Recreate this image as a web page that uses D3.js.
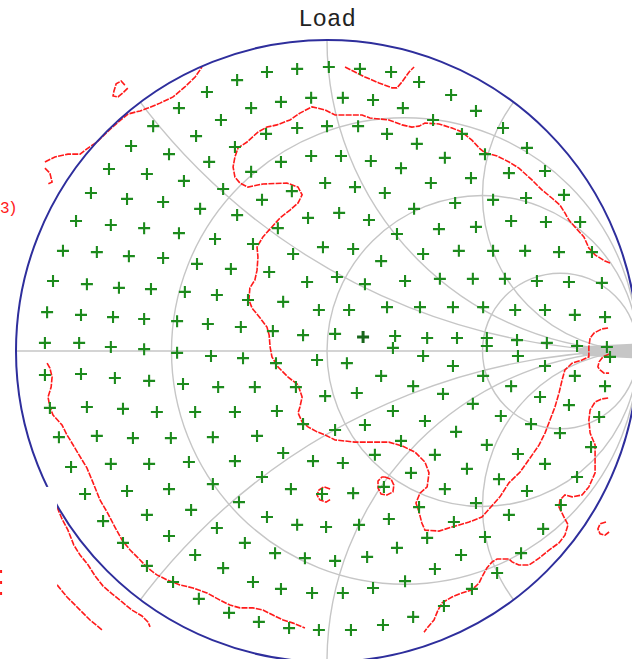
<!DOCTYPE html>
<html>
<head>
<meta charset="utf-8">
<script src="https://cdn.jsdelivr.net/npm/d3@7"></script>
<style>
  html, body { margin: 0; padding: 0; background: #fff; overflow: hidden; }
  svg { display: block; }
</style>
</head>
<body>
<svg id="chart" width="632" height="659"></svg>
<script>
// Load-pull Smith chart: measured load reflection coefficients (Γ = re, im)
// with the contour lines drawn from the sweep.

const chartTitle = "Load";
const edgeLabel = "3)";

// Smith grid: constant-resistance circles and constant-reactance arcs
const resistanceCircles = [1 / 3, 1, 3];
const reactanceArcs = [0.5, 1, 2, -0.5, -1, -2];

// Measured load points [Re Γ, Im Γ]
const loadPoints = [
  [-0.096,0.907],[-0.193,0.897],[-0.289,0.871],[-0.386,0.833],[-0.051,0.814],[-0.148,0.801],[-0.244,0.781],[-0.341,0.743],
  [-0.476,0.781],[-0.559,0.723],[-0.096,0.717],[-0.196,0.698],[-0.296,0.656],[-0.421,0.691],[-0.630,0.659],[-0.508,0.633],
  [-0.379,0.608],[-0.051,0.627],[-0.148,0.608],[-0.244,0.576],[-0.334,0.521],[-0.113,0.514],[-0.209,0.486],[-0.701,0.585],
  [-0.579,0.569],[-0.460,0.547],[-0.759,0.508],[-0.643,0.489],[-0.527,0.479],[-0.408,0.457],[-0.289,0.437],[-0.061,0.428],
  [-0.807,0.418],
  [-0.695,0.405],[-0.588,0.395],[-0.476,0.379],[-0.360,0.360],[-0.238,0.344],[-0.158,0.395],
  [-0.849,0.322],[-0.740,0.318],[-0.637,0.305],[-0.527,0.299],[-0.418,0.280],[-0.309,0.264],[-0.186,0.254],[-0.109,0.312],
  [-0.881,0.225],[-0.772,0.215],[-0.669,0.203],[-0.566,0.199],[-0.457,0.190],[-0.354,0.180],[-0.254,0.164],[-0.141,0.158],[-0.064,0.222],
  [-0.900,0.125],[-0.791,0.116],[-0.688,0.109],[-0.588,0.103],[-0.482,0.096],[-0.383,0.087],[-0.277,0.077],[-0.174,0.064],[-0.077,0.051],
  [-0.907,0.026],[-0.797,0.026],[-0.695,0.013],[-0.588,0.006],[-0.482,-0.006],[-0.373,-0.016],[-0.270,-0.023],[-0.164,-0.039],
  [-0.907,-0.077],[-0.791,-0.074],[-0.682,-0.087],[-0.572,-0.096],[-0.463,-0.106],[-0.350,-0.116],[-0.232,-0.116],[-0.100,-0.116],
  [-0.891,-0.183],[-0.772,-0.180],[-0.656,-0.186],[-0.547,-0.196],[-0.424,-0.196],[-0.296,-0.196],[-0.161,-0.193],[-0.077,-0.235],
  [-0.862,-0.277],[-0.740,-0.273],[-0.624,-0.280],[-0.502,-0.280],[-0.367,-0.277],[-0.225,-0.273],
  [-0.823,-0.373],[-0.695,-0.363],[-0.572,-0.363],[-0.444,-0.357],[-0.296,-0.354],[-0.141,-0.328],[-0.045,-0.354],
  [-0.778,-0.460],[-0.643,-0.450],[-0.508,-0.444],[-0.367,-0.428],[-0.209,-0.405],[-0.116,-0.444],
  [-0.720,-0.547],[-0.579,-0.527],[-0.437,-0.511],[-0.283,-0.486],[-0.193,-0.534],[-0.096,-0.559],
  [-0.656,-0.617],[-0.508,-0.595],[-0.354,-0.569],[-0.264,-0.617],[-0.167,-0.650],[-0.071,-0.666],
  [-0.579,-0.691],[-0.424,-0.656],[-0.334,-0.698],[-0.238,-0.743],[-0.148,-0.765],[-0.048,-0.778],
  [-0.495,-0.743],[-0.412,-0.797],[-0.315,-0.842],[-0.219,-0.871],[-0.122,-0.891],[-0.026,-0.897],
  [0.006,0.913],[0.106,0.907],[0.206,0.897],[0.296,0.865],[0.399,0.823],[0.479,0.772],[0.566,0.717],[0.643,0.653],[0.701,0.579],[0.762,0.502],
  [0.051,0.814],[0.148,0.807],[0.244,0.781],[0.341,0.743],[0.434,0.698],[0.508,0.633],[0.585,0.572],[0.640,0.492],
  [0.000,0.723],[0.100,0.723],[0.193,0.698],[0.289,0.666],[0.379,0.621],[0.463,0.556],[0.534,0.486],
  [0.045,0.627],[0.141,0.611],[0.238,0.588],[0.334,0.540],[0.412,0.476],
  [-0.006,0.540],[0.090,0.527],[0.186,0.508],[0.280,0.457],
  [0.039,0.444],[0.135,0.421],[0.592,0.418],[0.704,0.415],[0.814,0.415],
  [0.360,0.392],[0.479,0.399],[0.225,0.376],
  [-0.013,0.334],[0.084,0.328],[0.174,0.289],[0.309,0.312],[0.424,0.322],[0.534,0.322],[0.637,0.322],[0.746,0.318],[0.852,0.318],
  [0.032,0.238],[0.122,0.215],[0.251,0.225],[0.363,0.232],[0.469,0.232],[0.572,0.232],[0.675,0.225],[0.778,0.222],[0.884,0.219],
  [-0.026,0.132],[0.071,0.132],[0.193,0.141],[0.299,0.141],[0.405,0.141],[0.502,0.141],[0.605,0.132],[0.701,0.132],[0.797,0.116],[0.894,0.109],
  [0.026,0.055],[0.219,0.048],[0.322,0.042],[0.418,0.042],[0.514,0.042],[0.611,0.035],[0.707,0.026],[0.804,0.016],[0.900,0.013],
  [0.212,0.010],[0.514,0.016],
  [-0.032,-0.029],[0.064,-0.039],[0.309,-0.016],[0.614,-0.016],[0.910,-0.019],
  [0.405,-0.048],[0.701,-0.048],
  [0.174,-0.080],[0.502,-0.080],[0.797,-0.080],
  [0.894,-0.113],
  [-0.006,-0.145],[0.096,-0.135],[0.277,-0.113],[0.373,-0.138],[0.592,-0.113],[0.685,-0.148],[0.778,-0.174],[0.875,-0.212],
  [0.212,-0.193],[0.469,-0.170],[0.315,-0.225],[0.559,-0.209],[0.656,-0.235],
  [0.026,-0.254],[0.122,-0.238],[0.415,-0.260],[0.749,-0.264],
  [0.238,-0.289],
  [0.051,-0.360],[0.154,-0.334],[0.347,-0.334],[0.514,-0.302],[0.614,-0.331],[0.701,-0.363],[0.849,-0.309],
  [0.270,-0.392],[0.450,-0.379],[0.553,-0.412],[0.643,-0.450],[0.804,-0.405],
  [-0.016,-0.460],[0.084,-0.457],[0.183,-0.437],[0.379,-0.444],[0.479,-0.489],[0.585,-0.527],[0.695,-0.572],[0.752,-0.495],[0.296,-0.502],
  [-0.003,-0.566],[0.103,-0.559],[0.199,-0.540],[0.408,-0.550],[0.508,-0.598],[0.624,-0.650],[0.322,-0.601],
  [0.026,-0.675],[0.129,-0.662],[0.225,-0.633],[0.431,-0.656],[0.547,-0.714],[0.347,-0.701],
  [0.251,-0.740],[0.148,-0.762],[0.051,-0.778],[0.466,-0.765],
  [0.376,-0.820],[0.277,-0.855],[0.180,-0.881],[0.077,-0.897]
];

// Currently tuned load
const tunedPoint = [0.116, 0.045];

// Contour lines [Re Γ, Im Γ]
const contourUpperEdge = [
  [-0.907,0.608],[-0.875,0.624],[-0.833,0.633],[-0.794,0.633],[-0.772,0.650],[-0.740,0.672],[-0.707,0.704],[-0.675,0.733],
  [-0.640,0.762],[-0.601,0.772],[-0.576,0.781],[-0.537,0.797],[-0.495,0.817],[-0.457,0.849],[-0.424,0.881],[-0.402,0.913]
];
const contourHook = [[-0.907,0.588],[-0.891,0.572],[-0.884,0.543],[-0.897,0.537]];
const contourIslandA = [
  [-0.650,0.855],[-0.662,0.868],[-0.678,0.859],[-0.685,0.836],[-0.688,0.820],[-0.672,0.817],[-0.653,0.833],[-0.640,0.846]
];
const contourTopV = [
  [0.058,0.913],[0.090,0.897],[0.122,0.881],[0.167,0.862],[0.209,0.846],[0.225,0.846],[0.241,0.865],[0.264,0.897],[0.280,0.913]
];
const contourMain = [
  [0.910,0.283],[0.894,0.289],[0.862,0.309],[0.842,0.331],[0.826,0.367],[0.797,0.399],[0.778,0.421],[0.765,0.444],
  [0.749,0.469],[0.723,0.492],[0.691,0.518],[0.659,0.550],[0.617,0.588],[0.585,0.608],[0.547,0.627],[0.508,0.637],
  [0.489,0.653],[0.466,0.678],[0.434,0.704],[0.402,0.717],[0.360,0.730],[0.315,0.733],[0.296,0.723],[0.273,0.720],
  [0.241,0.727],[0.199,0.743],[0.138,0.749],[0.113,0.759],[0.026,0.759],[-0.006,0.775],[-0.048,0.785],[-0.087,0.765],
  [-0.119,0.743],[-0.161,0.727],[-0.193,0.720],[-0.222,0.704],[-0.257,0.672],[-0.286,0.653],[-0.296,0.624],[-0.302,0.592],
  [-0.296,0.559],[-0.280,0.540],[-0.254,0.527],[-0.206,0.537],[-0.129,0.540],[-0.093,0.527],[-0.080,0.502],[-0.093,0.476],
  [-0.119,0.453],[-0.151,0.428],[-0.177,0.399],[-0.206,0.367],[-0.225,0.334],[-0.222,0.302],[-0.225,0.260],[-0.232,0.228],
  [-0.248,0.203],[-0.251,0.164],[-0.241,0.138],[-0.215,0.106],[-0.193,0.077],[-0.186,0.051],[-0.183,0.013],[-0.177,-0.019],
  [-0.158,-0.051],[-0.125,-0.084],[-0.093,-0.109],[-0.080,-0.148],[-0.087,-0.180],[-0.093,-0.199],[-0.080,-0.228],[-0.061,-0.244],
  [-0.032,-0.260],[-0.006,-0.270],[0.026,-0.286],[0.090,-0.293],[0.199,-0.293],[0.241,-0.305],[0.283,-0.325],[0.315,-0.357],
  [0.328,-0.392],[0.322,-0.437],[0.299,-0.457],[0.286,-0.489],[0.296,-0.518],[0.305,-0.553],[0.315,-0.576],[0.360,-0.579],
  [0.402,-0.566],[0.457,-0.550],[0.498,-0.534],[0.524,-0.505],[0.556,-0.469],[0.585,-0.424],[0.621,-0.389],[0.653,-0.344],
  [0.682,-0.302],[0.701,-0.264],[0.717,-0.222],[0.733,-0.180],[0.746,-0.135],[0.756,-0.093],[0.765,-0.061],[0.788,-0.039],
  [0.820,-0.029],[0.842,-0.019],[0.842,0.013],[0.846,0.042],[0.859,0.058],[0.884,0.071],[0.904,0.074]
];
const contourLowerRight = [
  [0.904,-0.151],[0.884,-0.154],[0.862,-0.164],[0.846,-0.190],[0.842,-0.222],[0.846,-0.264],[0.862,-0.302],[0.862,-0.392],
  [0.842,-0.437],[0.820,-0.463],[0.788,-0.469],[0.765,-0.463],[0.749,-0.479],[0.746,-0.502],[0.762,-0.534],[0.775,-0.559],
  [0.765,-0.592],[0.746,-0.617],[0.714,-0.640],[0.682,-0.666],[0.650,-0.688],[0.617,-0.688],[0.595,-0.678],[0.585,-0.669],
  [0.547,-0.669],[0.531,-0.678],[0.514,-0.698],[0.498,-0.727],[0.489,-0.746],[0.466,-0.768],[0.434,-0.778],[0.402,-0.791],
  [0.370,-0.810],[0.357,-0.833],[0.344,-0.865],[0.322,-0.891],[0.312,-0.904]
];
const contourNearOpen = [
  [0.907,-0.010],[0.887,-0.019],[0.875,-0.035],[0.871,-0.051],[0.878,-0.061],[0.891,-0.071],[0.907,-0.071]
];
const contourIslandB = [
  [0.186,-0.405],[0.206,-0.412],[0.215,-0.431],[0.212,-0.453],[0.193,-0.463],[0.174,-0.460],[0.164,-0.441],[0.164,-0.418],[0.177,-0.405],[0.186,-0.405]
];
const contourIslandC = [
  [0.010,-0.444],[-0.010,-0.437],[-0.026,-0.447],[-0.032,-0.463],[-0.023,-0.479],[-0.003,-0.486],[0.013,-0.476]
];
const contourIslandD = [
  [0.897,-0.550],[0.878,-0.556],[0.871,-0.572],[0.878,-0.588],[0.894,-0.592],[0.907,-0.582]
];
const contourLowerLeft = [
  [-0.900,-0.039],[-0.891,-0.055],[-0.884,-0.084],[-0.887,-0.116],[-0.897,-0.148],[-0.891,-0.180],[-0.881,-0.206],[-0.852,-0.238],
  [-0.836,-0.270],[-0.826,-0.286],[-0.801,-0.328],[-0.772,-0.376],[-0.752,-0.424],[-0.730,-0.479],[-0.707,-0.518],[-0.682,-0.566],
  [-0.659,-0.608],[-0.633,-0.640],[-0.601,-0.672],[-0.576,-0.698],[-0.547,-0.720],[-0.514,-0.736],[-0.473,-0.752],[-0.431,-0.762],
  [-0.386,-0.778],[-0.344,-0.801],[-0.312,-0.817],[-0.280,-0.826],[-0.238,-0.826],[-0.206,-0.833],[-0.174,-0.849],[-0.141,-0.865],
  [-0.109,-0.875],[-0.071,-0.891]
];
const contourOuterB = [
  [-0.868,-0.502],[-0.852,-0.540],[-0.833,-0.576],[-0.814,-0.624],[-0.794,-0.656],[-0.768,-0.688],[-0.746,-0.723],[-0.720,-0.756],
  [-0.691,-0.781],[-0.659,-0.807],[-0.627,-0.833],[-0.595,-0.852],[-0.576,-0.871],[-0.569,-0.887]
];
const contourOuterC = [[-0.868,-0.752],[-0.836,-0.791],[-0.794,-0.833],[-0.762,-0.865],[-0.723,-0.897]];
const contourFarLeft = [[-1.048,-0.704],[-1.048,-0.810]];

const contours = [
  contourUpperEdge, contourHook, contourIslandA, contourTopV, contourMain, contourLowerRight,
  contourNearOpen, contourIslandB, contourIslandC, contourIslandD, contourLowerLeft, contourOuterB, contourOuterC
];

// ---------------------------------------------------------------------------
const W = 632, H = 659;
const cx = 327, cy = 351, R = 311;

const x = d3.scaleLinear().domain([-1, 1]).range([cx - R, cx + R]);
const y = d3.scaleLinear().domain([-1, 1]).range([cy + R, cy - R]);
const len = v => x(v) - x(0);

const svg = d3.select("#chart");

svg.append("defs").append("clipPath").attr("id", "unit")
  .append("circle").attr("cx", x(0)).attr("cy", y(0)).attr("r", len(1));

const gridColor = "#c6c6c6";
const grid = svg.append("g").attr("clip-path", "url(#unit)")
  .attr("fill", "none").attr("stroke", gridColor).attr("stroke-width", 1.4);

grid.selectAll("circle.res").data(resistanceCircles).join("circle")
  .attr("class", "res")
  .attr("cx", r => x(r / (1 + r))).attr("cy", y(0)).attr("r", r => len(1 / (1 + r)));

grid.selectAll("circle.reac").data(reactanceArcs).join("circle")
  .attr("class", "reac")
  .attr("cx", x(1)).attr("cy", v => y(1 / v)).attr("r", v => len(1 / Math.abs(v)));

grid.append("line")
  .attr("x1", x(-1)).attr("x2", x(1)).attr("y1", y(0)).attr("y2", y(0));

// Dense bundle where the arcs meet at the open-circuit point
grid.append("path")
  .attr("fill", gridColor).attr("stroke", "none")
  .attr("d", d3.line()([
    [x(0.80), y(0)], [x(0.83), y(0.016)], [x(1), y(0.024)],
    [x(1), y(-0.024)], [x(0.83), y(-0.016)]
  ]) + "Z");

// Contours
const line = d3.line().x(d => x(d[0])).y(d => y(d[1]));
const red = "#ff1a1a";
svg.append("g").attr("fill", "none").attr("stroke", red)
  .attr("stroke-width", 1.6).attr("stroke-dasharray", "6 1.2")
  .selectAll("path").data(contours).join("path").attr("d", line);

// Outer boundary |Γ| = 1
svg.append("circle")
  .attr("cx", x(0)).attr("cy", y(0)).attr("r", len(1))
  .attr("fill", "none").attr("stroke", "#2e2e9c").attr("stroke-width", 2);

// Measured load points
const plus = "M-6,0H6M0,-6V6";
svg.append("g").attr("stroke", "#1c8a1c").attr("stroke-width", 2.1).attr("fill", "none")
  .selectAll("path").data(loadPoints).join("path")
  .attr("d", plus)
  .attr("transform", d => `translate(${x(d[0])},${y(d[1])})`);

svg.append("path").attr("d", plus)
  .attr("stroke", "#17661a").attr("stroke-width", 3)
  .attr("transform", `translate(${x(tunedPoint[0])},${y(tunedPoint[1])})`);

// Title
svg.append("text")
  .attr("x", x(0)).attr("y", 26)
  .attr("text-anchor", "middle")
  .attr("font-family", "'Liberation Mono', 'DejaVu Sans Mono', monospace")
  .attr("font-size", 24).attr("fill", "#222")
  .text(chartTitle);

// Blank strip at the lower-left corner
svg.append("rect")
  .attr("x", 0).attr("y", y(-0.437))
  .attr("width", x(-0.868)).attr("height", H - y(-0.437))
  .attr("fill", "#fff");

svg.append("path").attr("d", line(contourFarLeft))
  .attr("fill", "none").attr("stroke", red).attr("stroke-width", 2)
  .attr("stroke-dasharray", "3 8");

// Contour label at the left margin
svg.append("text")
  .attr("x", 0).attr("y", y(0.444))
  .attr("text-anchor", "start")
  .attr("font-family", "'Liberation Mono', 'DejaVu Sans Mono', monospace")
  .attr("font-size", 16).attr("letter-spacing", -1.5).attr("fill", red)
  .text(edgeLabel);
</script>
</body>
</html>
